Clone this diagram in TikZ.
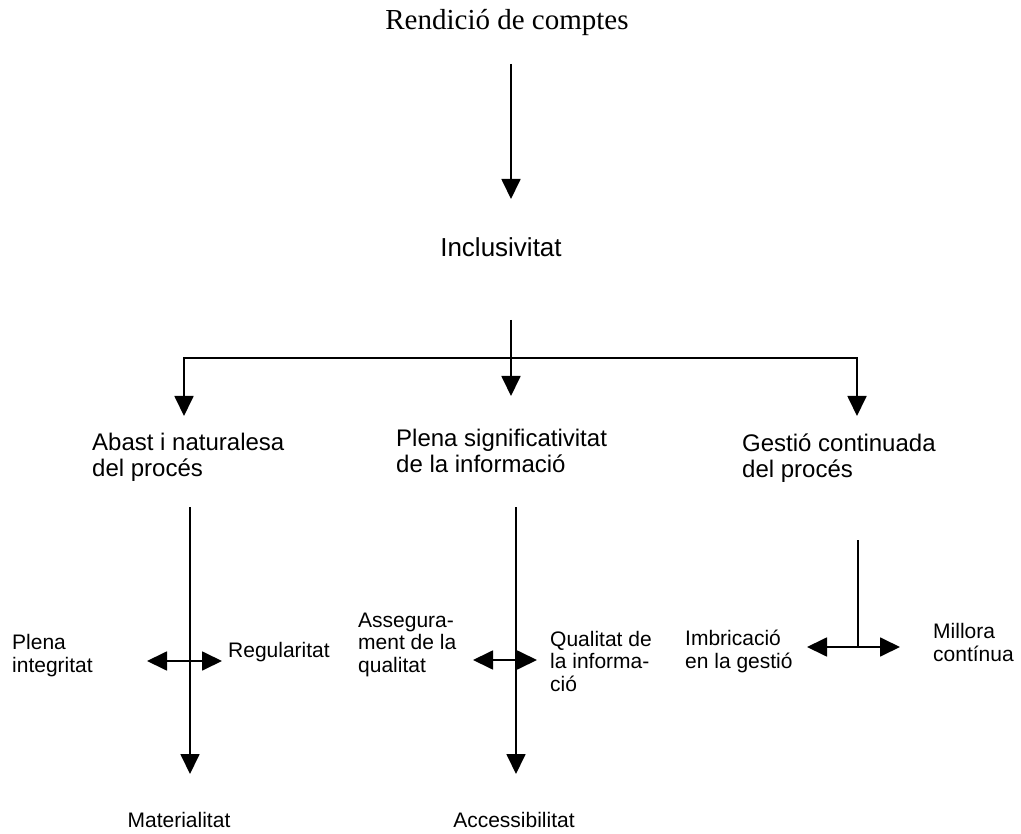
\documentclass[tikz,border=0pt]{standalone}
\usepackage{fontspec}
\setmainfont{Liberation Sans}
\newfontfamily\timesfont{Liberation Serif}
\usetikzlibrary{arrows.meta}
\begin{document}
\begin{tikzpicture}[x=1pt,y=-1pt,
  conn/.style={line width=1.8pt},
  arr/.style={conn,-{Triangle[length=20pt,width=19pt]}},
  darr/.style={conn,{Triangle[length=20pt,width=19pt]}-{Triangle[length=20pt,width=19pt]}},
  big/.style={font=\fontsize{26}{30}\selectfont, inner sep=0pt, anchor=base},
  mid/.style={font=\fontsize{24}{26}\selectfont, inner sep=0pt, align=left, anchor=base west},
  small/.style={font=\fontsize{21}{22.5}\selectfont, inner sep=0pt, align=left, anchor=base west},
]
\useasboundingbox (0,0) rectangle (1021,834);
% texts (multi-line nodes: base = baseline of last line)
\node[big, font=\timesfont\fontsize{29}{32}\selectfont] (rend) at (507,30) {Rendició de comptes};
\node[big] (incl) at (501,257) {Inclusivitat};
\node[mid] (abast) at (92,477) {Abast i naturalesa\\del procés};
\node[mid] (plena) at (396,472) {Plena significativitat\\de la informació};
\node[mid] (gestio) at (742,478) {Gestió continuada\\del procés};
\node[small] (integ) at (12,672) {Plena\\integritat};
\node[small] (regul) at (228,657) {Regularitat};
\node[small] (asseg) at (358,672) {Assegura-\\ment de la\\qualitat};
\node[small] (qualit) at (550,691) {Qualitat de\\la informa-\\ció};
\node[small] (imbric) at (685,668) {Imbricació\\en la gestió};
\node[small] (millora) at (933,661) {Millora\\contínua};
\node[small, anchor=base] (mater) at (179,827) {Materialitat};
\node[small, anchor=base] (access) at (514,827) {Accessibilitat};
% top arrow
\coordinate (r1) at (511,64); \coordinate (r2) at (511,199);
\draw[arr] (r1) -- (r2);
% branching
\coordinate (i0) at (511,320); \coordinate (ij) at (511,358);
\coordinate (pt) at (511,396); \coordinate (at) at (184,416); \coordinate (gt) at (857,416);
\draw[conn] (i0) -- (ij);
\draw[arr] (ij) -- (pt);
\draw[arr] (ij) -| (at);
\draw[arr] (ij) -| (gt);
% left column
\coordinate (l0) at (190,507); \coordinate (l1) at (190,774);
\draw[arr] (l0) -- (l1);
\coordinate (lL) at (147,661); \coordinate (lR) at (222,661);
\draw[darr] (lL) -- (lR);
% middle column
\coordinate (m0) at (516,507); \coordinate (m1) at (516,774);
\draw[arr] (m0) -- (m1);
\coordinate (mL) at (473,660); \coordinate (mR) at (537,660);
\draw[darr] (mL) -- (mR);
% right column
\coordinate (g0) at (858,540); \coordinate (gj) at (858,647);
\draw[conn] (g0) -- (gj);
\coordinate (gL) at (807,647); \coordinate (gR) at (900,647);
\draw[darr] (gL) -- (gR);
\end{tikzpicture}
\end{document}
